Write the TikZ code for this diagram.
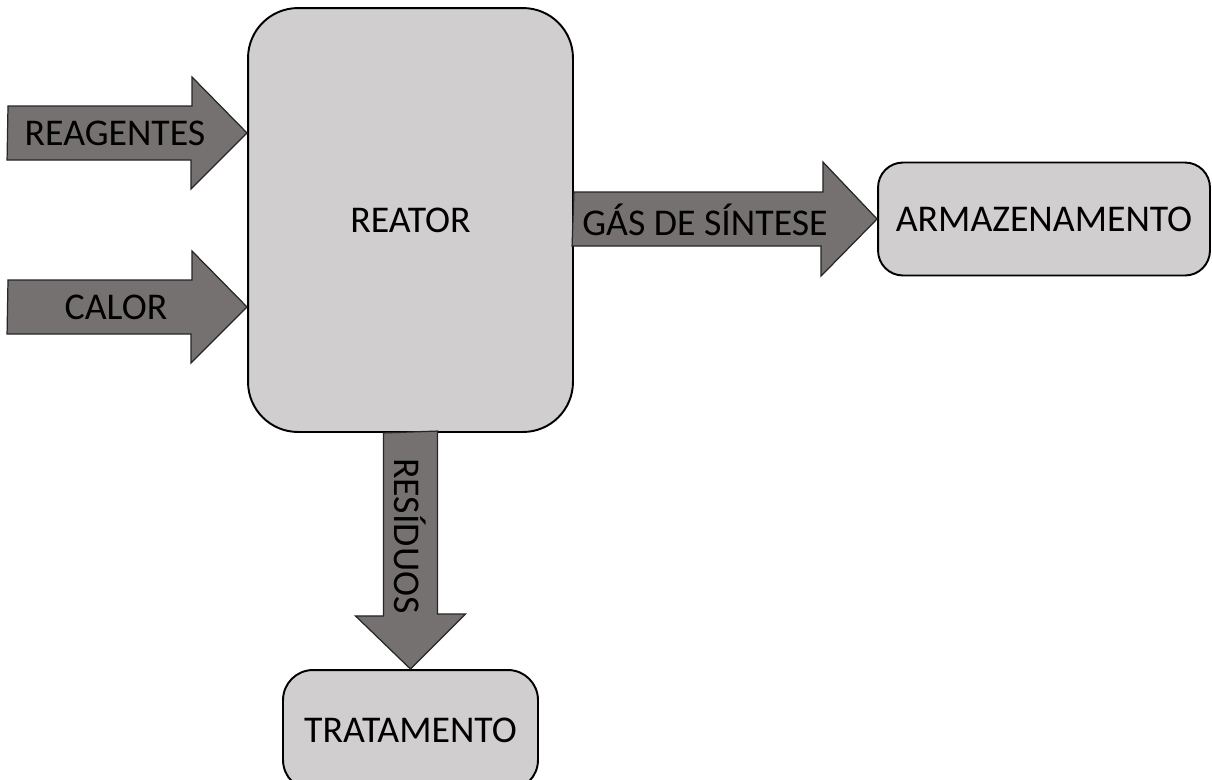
\documentclass[tikz,border=0pt]{standalone}
\usepackage{fontspec}
\setmainfont{Carlito}
\usetikzlibrary{positioning}
\definecolor{caixa}{HTML}{D0CECE}
\definecolor{setacor}{HTML}{767171}
\tikzset{
  bloco/.style={draw=black, line width=1.1pt, fill=caixa, font=\fontsize{21.5}{26}\selectfont},
  setabloco/.style={draw=black!85, line width=0.7pt, fill=setacor, line join=miter},
  rotulo/.style={font=\fontsize{21.5}{26}\selectfont, inner sep=0pt}
}
\begin{document}
\begin{tikzpicture}[x=0.02cm,y=-0.02cm]
      \useasboundingbox (0,0) rectangle (1212,779);
        \node[bloco, rounded corners=1cm, minimum width=6.5cm, minimum height=8.48cm] (reator) at (410.5,220) {REATOR};
        \node[bloco, rounded corners=0.5cm, minimum width=6.64cm, minimum height=2.26cm] (armaz) at (1044,219) {ARMAZENAMENTO};
        \node[bloco, rounded corners=0.6cm, minimum width=5.1cm, minimum height=2.4cm] (trat) at (410.5,730) {TRATAMENTO};
        \coordinate (ent1) at (8,133);
        \coordinate (ent2) at (8,307);
        \draw[setabloco] (ent1) ++(0,-27) -- ++(184,0) -- ++(0,-29) -- (reator.west |- ent1) -- ++(-56,56) -- ++(0,-29) -- ++(-184,0) -- cycle;
        \draw[setabloco] (ent2) ++(0,-27) -- ++(184,0) -- ++(0,-29) -- (reator.west |- ent2) -- ++(-56,56) -- ++(0,-29) -- ++(-184,0) -- cycle;
        \draw[setabloco] (reator.east |- armaz.west) ++(0,-27) -- ++(249,0) -- ++(0,-30) -- (armaz.west) -- ++(-56,57) -- ++(0,-30) -- ++(-249,0) -- cycle;
        \draw[setabloco] (reator.south) ++(-27,0) -- ++(0,183) -- ++(-28,0) -- (trat.north) -- ++(55,-55) -- ++(-28,0) -- ++(0,-183) -- cycle;
        \node[rotulo] (lreag) at (115,133) {REAGENTES};
        \node[rotulo] (lcalor) at (116,307) {CALOR};
        \node[rotulo] (lgas) at (705,220) {GÁS DE SÍNTESE};
        \node[rotulo, rotate=-90] (lres) at (410,536) {RESÍDUOS};
      \end{tikzpicture}
\end{document}
